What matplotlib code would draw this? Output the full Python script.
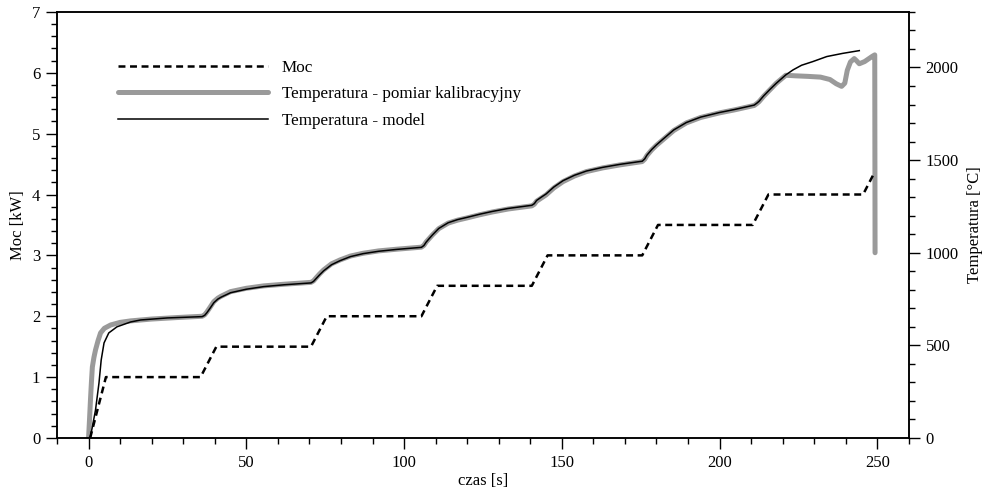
import matplotlib
matplotlib.use('Agg')
import matplotlib.pyplot as plt
from matplotlib.ticker import MultipleLocator

plt.rcParams['font.family'] = ['Liberation Serif', 'DejaVu Serif']
plt.rcParams['font.size'] = 12
plt.rcParams['lines.scale_dashes'] = False

# moc grzania [kW]
moc_t = [0.5, 5.5, 35.5, 40.5, 70.5, 75.5, 105.5, 110.5, 140.5, 145.5,
         175.5, 180.5, 210.5, 215.5, 245.5, 249]
moc_kw = [0, 1, 1, 1.5, 1.5, 2, 2, 2.5, 2.5, 3, 3, 3.5, 3.5, 4, 4, 4.35]

# temperatura - pomiar kalibracyjny [°C]
pom_t = [0, 0.3, 0.6, 0.9, 1.2, 1.7, 2.2, 3, 3.8, 5, 7, 10, 13.3, 20, 28, 36,
         36.8, 37.5, 38.5, 39.7, 41, 42, 45, 50, 55.5, 62, 70.5,
         71.3, 72, 73.2, 74.5, 77, 79.7, 83, 87, 92, 97.7, 105.5,
         106.3, 107, 108, 109, 111, 114, 117, 120, 124, 128, 133, 140.5,
         141.3, 142, 143.5, 145, 147.5, 150.4, 154, 157.8, 163, 168.4, 175.5,
         176.3, 177, 178.5, 180, 182, 185.5, 189.5, 194, 200, 205, 211,
         211.8, 212.5, 214, 216, 218, 221, 224, 228, 232, 235, 237, 238.7, 239.7,
         240.5, 241.5, 242.7, 243.5, 244.3, 246, 248.4, 249.2, 249.3]
pom_T = [0, 100, 205, 300, 383, 435, 475, 525, 567, 592, 610, 624, 632, 642, 650, 657,
         665, 680, 705, 736, 755, 765, 790, 808, 821, 830, 840,
         848, 862, 885, 907, 940, 961, 982, 997, 1010, 1019, 1030,
         1040, 1058, 1077, 1096, 1130, 1160, 1176, 1188, 1205, 1220, 1236, 1253,
         1262, 1278, 1295, 1312, 1350, 1384, 1414, 1438, 1458, 1474, 1492,
         1505, 1525, 1555, 1580, 1609, 1660, 1701, 1730, 1755, 1772, 1795,
         1805, 1815, 1845, 1880, 1915, 1958, 1955, 1952, 1948, 1935, 1912, 1898, 1915,
         1985, 2030, 2048, 2035, 2020, 2032, 2060, 2068, 1000]

# temperatura - model [°C]
mod_t = [0.5, 1.2, 2.2, 3.3, 4, 4.9, 6.4, 9, 13.3, 16.5, 25, 36,
         36.8, 37.5, 38.5, 39.7, 41, 42, 45, 50, 55.5, 62, 70.5,
         71.3, 72, 73.2, 74.5, 77, 79.7, 83, 87, 92, 97.7, 105.5,
         106.3, 107, 108, 109, 111, 114, 117, 120, 124, 128, 133, 140.5,
         141.3, 142, 143.5, 145, 147.5, 150.4, 154, 157.8, 163, 168.4, 175.5,
         176.3, 177, 178.5, 180, 182, 185.5, 189.5, 194, 200, 205, 211,
         211.8, 212.5, 214, 216, 218, 221, 223.3, 226, 229.6, 234, 239, 244.3]
mod_T = [0, 60, 151, 297, 421, 513, 567, 600, 626, 637, 648, 655,
         662, 676, 700, 730, 750, 760, 784, 803, 817, 827, 837,
         845, 858, 880, 902, 935, 957, 979, 995, 1008, 1018, 1029,
         1039, 1057, 1077, 1096, 1131, 1162, 1179, 1191, 1208, 1223, 1239, 1256,
         1265, 1282, 1300, 1317, 1355, 1389, 1418, 1441, 1461, 1477, 1494,
         1507, 1527, 1557, 1582, 1612, 1663, 1703, 1732, 1757, 1774, 1797,
         1807, 1817, 1847, 1882, 1915, 1960, 1987, 2012, 2032, 2059, 2076, 2091]

fig, ax = plt.subplots(figsize=(9.9, 4.96), dpi=100)
fig.subplots_adjust(left=0.0576, right=0.918, bottom=0.117, top=0.976)
ax2 = ax.twinx()

l_pom, = ax2.plot(pom_t, pom_T, color='#9a9a9a', lw=3.6, solid_capstyle='round',
                  solid_joinstyle='round', label='Temperatura - pomiar kalibracyjny')
l_mod, = ax2.plot(mod_t, mod_T, color='black', lw=1.1, label='Temperatura - model')
l_moc, = ax.plot(moc_t, moc_kw, color='black', lw=1.8, dashes=(5, 3.3), label='Moc')

# dashed power line drawn above the temperature curves
ax.set_zorder(ax2.get_zorder() + 1)
ax.patch.set_visible(False)

ax.set_xlim(-10, 260)
ax.set_ylim(0, 7)
ax2.set_ylim(0, 2300)
ax.xaxis.set_major_locator(MultipleLocator(50))
ax.xaxis.set_minor_locator(MultipleLocator(10))
ax.yaxis.set_major_locator(MultipleLocator(1))
ax.yaxis.set_minor_locator(MultipleLocator(0.2))
ax2.yaxis.set_major_locator(MultipleLocator(500))
ax2.yaxis.set_minor_locator(MultipleLocator(100))

for a in (ax, ax2):
    a.tick_params(which='major', direction='out', length=8, width=1, pad=4, labelsize=12)
    a.tick_params(which='minor', direction='out', length=4.5, width=1)
    for s in a.spines.values():
        s.set_linewidth(1.1)
ax.tick_params(top=False, which='both')
ax2.tick_params(axis='y', which='both', left=False, right=True)

ax.set_xlabel('czas [s]', labelpad=2)
ax.set_ylabel('Moc [kW]', labelpad=4)
ax2.set_ylabel('Temperatura [°C]', labelpad=6)

ax.legend(handles=[l_moc, l_pom, l_mod], loc='upper left',
          bbox_to_anchor=(0.0716, 0.888), frameon=False, borderpad=0,
          borderaxespad=0, handlelength=8.8, handletextpad=0.8, labelspacing=0.62,
          fontsize=12.3)

fig.savefig('out.png', dpi=100)
